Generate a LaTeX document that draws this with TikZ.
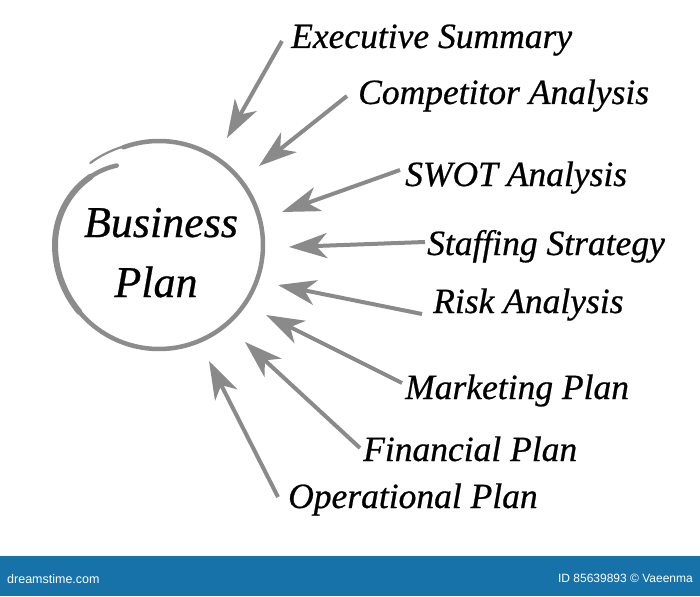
\documentclass[tikz,border=0pt]{standalone}
\usepackage{fontspec}
\setmainfont{Liberation Serif}[ItalicFeatures={FakeBold=0.6}]
\setsansfont{Liberation Sans}
\usetikzlibrary{arrows.meta}
\definecolor{arrowgray}{HTML}{8A8A8A}
\definecolor{ringgray}{HTML}{8C8C8C}
\definecolor{barblue}{HTML}{1672A9}
\tikzset{
  lbl/.style={anchor=base west, inner sep=0pt, font=\fontsize{35.5}{35}\selectfont\itshape},
  title/.style={anchor=base, inner sep=0pt, font=\fontsize{44}{44}\selectfont\itshape},
  feed/.style={draw=arrowgray, line width=4pt,
    -{Stealth[length=38pt,width=25pt,inset=11pt]}},
  ring/.style={draw=ringgray, line width=4.5pt, line cap=round},
}
\begin{document}
\begin{tikzpicture}[x=1pt,y=-1pt]
\useasboundingbox (0,0) rectangle (700,596);
\fill[white] (0,0) rectangle (700,596);
% ring
\draw[ring] plot[domain=110:-242,samples=120,smooth]
  ({159+(104-14*(max(0,(-180-\x)/62))^2)*cos(\x)},{245-(104-14*(max(0,(-180-\x)/62))^2)*sin(\x)});
\draw[ring,line width=6pt] plot[domain=-140:-225,samples=40,smooth]
  ({159+(104-14*(max(0,(-180-\x)/62))^2)*cos(\x)},{245-(104-14*(max(0,(-180-\x)/62))^2)*sin(\x)});
\draw[ring,line width=2.2pt] plot[domain=130:104,samples=20,smooth]
  ({159+(104+3*(\x-104)/26)*cos(\x)},{245-(104+3*(\x-104)/26)*sin(\x)});
\node[title] (b1) at (161,237) {Business};
\node[title] (b2) at (156,297) {Plan};
% labels
\node[lbl] (l1) at (291,48) {Executive Summary};
\node[lbl] (l2) at (358,104) {Competitor Analysis};
\node[lbl] (l3) at (405,186) {SWOT Analysis};
\node[lbl] (l4) at (427,255) {Staffing Strategy};
\node[lbl] (l5) at (433,313) {Risk Analysis};
\node[lbl] (l6) at (405,399) {Marketing Plan};
\node[lbl] (l7) at (363,461) {Financial Plan};
\node[lbl] (l8) at (288,508) {Operational Plan};
% tails and heads
\coordinate (t1) at (282,41);  \coordinate (h1) at (227,138);
\coordinate (t2) at (347,96);  \coordinate (h2) at (259,166);
\coordinate (t3) at (400,170); \coordinate (h3) at (282,212);
\coordinate (t4) at (425,242); \coordinate (h4) at (289,247);
\coordinate (t5) at (422,314); \coordinate (h5) at (278,285);
\coordinate (t6) at (402,383); \coordinate (h6) at (266,315);
\coordinate (t7) at (360,448); \coordinate (h7) at (245,342);
\coordinate (t8) at (278,497); \coordinate (h8) at (209,361);
\foreach \i in {1,...,8}{\draw[feed] (t\i) -- (h\i);}
% bottom bar
\fill[barblue] (0,556) rectangle (700,596);
\node[anchor=west, inner sep=0pt, text=white, font=\fontsize{12.5}{12.5}\selectfont\sffamily] (wm) at (7,579) {dreamstime.com};
\node[anchor=east, inner sep=0pt, text=white, font=\fontsize{12}{12}\selectfont\sffamily] (id) at (693,578) {ID 85639893 © Vaeenma};
\end{tikzpicture}
\end{document}
